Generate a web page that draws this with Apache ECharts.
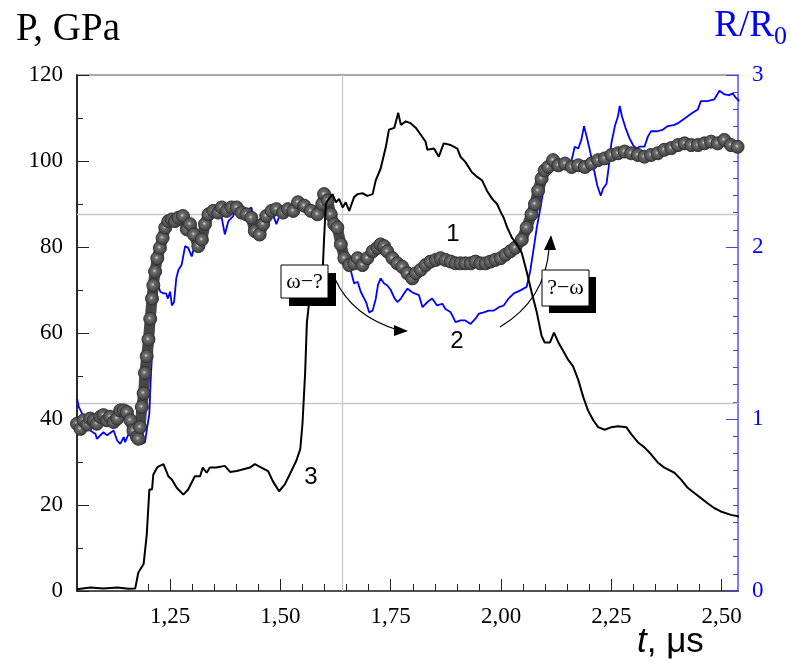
<!DOCTYPE html>
<html>
<head>
<meta charset="utf-8">
<script src="https://cdn.jsdelivr.net/npm/echarts@6/dist/echarts.min.js"></script>
<style>
  html, body { margin: 0; padding: 0; background: #fff; }
  #chart { width: 791px; height: 668px; }
</style>
</head>
<body>
<div id="chart"></div>
<script>
  // time axis, us
  var timeRange = [1.039, 2.537];
  var timeTicks = [1.25, 1.50, 1.75, 2.00, 2.25, 2.50];
  var timeMinorTicks = [1.20, 1.30, 1.35, 1.40, 1.45, 1.55, 1.60, 1.65, 1.70, 1.80, 1.85, 1.90, 1.95,
    2.05, 2.10, 2.15, 2.20, 2.30, 2.35, 2.40, 2.45];
  // reference lines
  var refTime = 1.641;
  var refLevelsR = [2.185, 1.095];

  // curve 1 - circles, P (GPa)
  var curve1 = [[1.039,38.9],[1.047,37.7],[1.054,39.7],[1.062,38.7],[1.069,40.1],[1.077,39.7],[1.084,38.9],
    [1.092,40.5],[1.099,40.9],[1.107,39.7],[1.114,40.5],[1.122,39.3],[1.130,40.1],[1.137,42.0],[1.145,42.0],
    [1.152,41.6],[1.160,39.7],[1.167,37.3],[1.175,35.8],[1.178,35.4],[1.182,38.1],[1.186,42.8],[1.190,46.0],
    [1.193,50.7],[1.197,54.6],[1.201,58.5],[1.205,63.3],[1.209,68.0],[1.212,71.1],[1.216,74.3],[1.221,77.4],
    [1.227,79.8],[1.233,82.1],[1.239,84.5],[1.246,86.0],[1.254,86.4],[1.261,86.0],[1.269,86.8],[1.279,87.2],
    [1.288,84.1],[1.295,85.3],[1.304,82.9],[1.314,80.2],[1.322,81.7],[1.329,85.3],[1.337,87.6],[1.348,88.4],
    [1.359,88.0],[1.367,89.2],[1.378,88.4],[1.389,89.2],[1.401,89.2],[1.412,88.0],[1.423,87.6],[1.434,86.8],
    [1.442,83.7],[1.453,82.9],[1.461,85.3],[1.468,87.2],[1.480,88.4],[1.491,88.8],[1.506,88.0],[1.517,88.8],
    [1.529,88.4],[1.540,90.4],[1.554,89.6],[1.569,88.4],[1.584,87.6],[1.595,90.0],[1.599,92.3],[1.607,90.8],
    [1.614,87.6],[1.622,85.3],[1.629,84.5],[1.637,80.6],[1.645,77.4],[1.656,75.8],[1.667,76.2],[1.675,77.4],
    [1.686,75.8],[1.697,77.4],[1.709,79.0],[1.720,79.8],[1.727,80.6],[1.735,80.2],[1.742,79.0],[1.754,77.4],
    [1.765,76.2],[1.776,75.4],[1.788,73.9],[1.799,72.7],[1.807,73.9],[1.818,74.7],[1.829,75.8],[1.840,76.6],
    [1.852,77.0],[1.863,77.4],[1.874,77.0],[1.886,76.6],[1.897,76.2],[1.908,76.2],[1.919,76.2],[1.931,76.2],
    [1.942,76.6],[1.953,76.2],[1.965,76.2],[1.976,76.6],[1.987,77.0],[1.999,77.4],[2.010,78.2],[2.021,79.0],
    [2.032,79.8],[2.047,81.7],[2.058,84.5],[2.069,87.6],[2.077,90.0],[2.084,93.1],[2.092,95.9],[2.099,97.8],
    [2.107,98.6],[2.118,100.2],[2.130,99.0],[2.145,99.4],[2.160,98.6],[2.175,99.0],[2.190,98.6],[2.205,99.4],
    [2.220,100.2],[2.235,100.6],[2.250,101.4],[2.265,101.8],[2.280,102.2],[2.295,101.8],[2.310,101.4],
    [2.325,101.0],[2.340,101.4],[2.355,101.8],[2.370,102.6],[2.386,103.0],[2.401,103.7],[2.416,104.1],
    [2.431,103.7],[2.446,103.7],[2.461,104.1],[2.476,104.5],[2.491,104.1],[2.506,104.9],[2.521,103.7],[2.536,103.3]];

  // curve 2 - blue, R/R0
  var curve2 = [[1.039,1.120],[1.043,1.070],[1.047,1.050],[1.058,0.993],[1.069,0.933],[1.081,0.913],[1.084,0.885],
    [1.099,0.923],[1.107,0.905],[1.122,0.933],[1.130,0.875],[1.137,0.855],[1.145,0.895],[1.148,0.865],
    [1.156,0.913],[1.167,0.885],[1.178,0.875],[1.186,0.855],[1.193,0.865],[1.197,0.933],[1.203,1.033],
    [1.206,1.228],[1.211,1.463],[1.216,1.660],[1.221,1.788],[1.228,1.740],[1.235,1.730],[1.241,1.730],
    [1.245,1.700],[1.250,1.740],[1.254,1.660],[1.259,1.680],[1.264,1.818],[1.269,1.868],[1.276,1.895],
    [1.284,2.005],[1.291,1.995],[1.299,1.945],[1.306,2.015],[1.314,2.035],[1.322,2.093],[1.333,2.170],
    [1.344,2.190],[1.355,2.180],[1.367,2.170],[1.374,2.073],[1.382,2.150],[1.393,2.180],[1.404,2.260],
    [1.412,2.240],[1.423,2.210],[1.434,2.230],[1.440,2.170],[1.446,2.140],[1.457,2.170],[1.468,2.190],
    [1.480,2.210],[1.491,2.133],[1.499,2.190],[1.510,2.220],[1.521,2.230],[1.536,2.230],[1.555,2.210],
    [1.575,2.240],[1.590,2.220],[1.599,2.230],[1.614,2.210],[1.622,2.150],[1.637,2.015],[1.652,1.915],
    [1.660,1.858],[1.667,1.788],[1.675,1.798],[1.682,1.740],[1.694,1.680],[1.701,1.620],[1.709,1.630],
    [1.716,1.698],[1.721,1.778],[1.727,1.818],[1.735,1.788],[1.742,1.778],[1.750,1.750],[1.759,1.700],
    [1.765,1.680],[1.773,1.700],[1.780,1.730],[1.788,1.758],[1.797,1.740],[1.804,1.730],[1.814,1.720],
    [1.822,1.650],[1.833,1.680],[1.844,1.700],[1.855,1.660],[1.867,1.670],[1.874,1.640],[1.886,1.620],
    [1.897,1.563],[1.908,1.573],[1.919,1.573],[1.931,1.553],[1.942,1.583],[1.950,1.613],[1.961,1.620],
    [1.972,1.630],[1.983,1.630],[1.995,1.650],[2.006,1.660],[2.017,1.700],[2.029,1.730],[2.044,1.748],
    [2.058,1.768],[2.066,1.858],[2.073,1.975],[2.081,2.113],[2.088,2.210],[2.096,2.328],[2.103,2.408],
    [2.114,2.445],[2.130,2.455],[2.145,2.465],[2.160,2.505],[2.167,2.583],[2.175,2.573],[2.182,2.623],
    [2.188,2.703],[2.194,2.643],[2.201,2.565],[2.211,2.445],[2.218,2.358],[2.226,2.298],[2.231,2.338],
    [2.239,2.368],[2.244,2.465],[2.250,2.603],[2.258,2.703],[2.265,2.760],[2.269,2.820],[2.274,2.760],
    [2.282,2.693],[2.291,2.633],[2.299,2.593],[2.306,2.573],[2.314,2.583],[2.325,2.583],[2.333,2.643],
    [2.340,2.673],[2.355,2.673],[2.367,2.683],[2.378,2.703],[2.393,2.710],[2.401,2.720],[2.412,2.740],
    [2.423,2.760],[2.434,2.780],[2.446,2.800],[2.453,2.848],[2.468,2.848],[2.483,2.858],[2.495,2.908],
    [2.506,2.888],[2.517,2.883],[2.525,2.893],[2.532,2.868],[2.540,2.848]];

  // curve 3 - black, P (GPa)
  var curve3 = [[1.039,0.4],[1.069,0.8],[1.099,0.6],[1.130,0.8],[1.156,0.5],[1.171,0.6],[1.178,4.3],[1.190,6.3],
    [1.197,13.0],[1.203,23.6],[1.209,23.6],[1.212,27.1],[1.221,28.8],[1.235,29.5],[1.246,26.7],[1.254,25.9],
    [1.265,24.0],[1.280,22.4],[1.291,23.6],[1.306,26.7],[1.318,26.7],[1.324,28.7],[1.333,27.5],[1.340,28.7],
    [1.355,28.7],[1.374,29.1],[1.386,27.7],[1.401,27.9],[1.416,28.3],[1.431,28.7],[1.442,29.5],[1.457,28.7],
    [1.472,27.9],[1.483,25.5],[1.497,23.2],[1.510,24.8],[1.521,27.1],[1.536,30.3],[1.545,33.0],[1.550,38.9],
    [1.556,50.7],[1.560,62.5],[1.566,68.0],[1.573,71.1],[1.584,72.7],[1.596,75.0],[1.599,82.1],[1.603,90.0],
    [1.607,90.8],[1.618,92.3],[1.626,90.4],[1.633,91.2],[1.641,89.2],[1.648,90.4],[1.656,88.4],[1.660,89.6],
    [1.667,91.6],[1.675,92.3],[1.686,92.5],[1.697,91.9],[1.709,92.3],[1.716,95.5],[1.727,98.2],[1.739,103.3],
    [1.746,107.3],[1.758,107.7],[1.767,111.2],[1.773,108.4],[1.784,109.2],[1.795,108.8],[1.807,107.7],
    [1.818,106.1],[1.829,104.5],[1.833,102.6],[1.848,102.9],[1.859,101.0],[1.870,104.1],[1.886,103.7],
    [1.901,102.9],[1.908,101.0],[1.919,99.8],[1.934,97.4],[1.946,96.3],[1.957,95.5],[1.968,93.1],[1.980,91.2],
    [1.991,90.0],[1.998,88.4],[2.006,86.8],[2.014,84.5],[2.025,82.1],[2.036,80.6],[2.047,78.6],[2.058,74.3],
    [2.069,69.6],[2.081,64.8],[2.092,59.3],[2.099,57.8],[2.111,57.8],[2.120,60.1],[2.130,57.8],[2.141,55.8],
    [2.152,53.8],[2.163,52.3],[2.175,49.1],[2.186,45.2],[2.197,42.0],[2.209,39.7],[2.220,38.1],[2.235,37.5],
    [2.250,38.1],[2.265,38.3],[2.284,38.1],[2.295,36.5],[2.310,34.6],[2.325,33.4],[2.340,31.8],[2.355,29.9],
    [2.370,28.7],[2.393,27.5],[2.408,25.9],[2.423,24.0],[2.438,22.8],[2.453,21.6],[2.468,20.4],[2.483,19.3],
    [2.498,18.5],[2.521,17.7],[2.540,17.3]];

  var serif = '"Liberation Serif", "DejaVu Serif", serif';
  var sans = '"Liberation Sans", Arial, sans-serif';

  var chart = echarts.init(document.getElementById('chart'), null, { renderer: 'canvas' });

  var option = {
    animation: false,
    backgroundColor: '#fff',
    grid: { left: 77, right: 53, top: 75, bottom: 77, show: true, borderColor: '#8c8c8c', borderWidth: 1.5, backgroundColor: 'transparent' },
    xAxis: [{
      type: 'value',
      min: timeRange[0],
      max: timeRange[1],
      position: 'bottom',
      axisLine: { lineStyle: { color: '#333', width: 1.5 } },
      axisTick: { inside: true, length: 12, customValues: timeTicks, lineStyle: { color: '#222', width: 1 } },
      axisLabel: {
        customValues: timeTicks,
        margin: 14,
        fontFamily: serif, fontSize: 23, color: '#000',
        formatter: function (v) { return v.toFixed(2).replace('.', ','); }
      },
      splitLine: { show: false }
    }, {
      // minor ticks only
      type: 'value',
      min: timeRange[0],
      max: timeRange[1],
      position: 'bottom',
      axisLine: { show: false },
      axisTick: { inside: true, length: 7, customValues: timeMinorTicks, lineStyle: { color: '#222', width: 1 } },
      axisLabel: { show: false },
      splitLine: { show: false }
    }],
    yAxis: [{
      type: 'value',
      min: 0, max: 120, interval: 20,
      position: 'left',
      axisLine: { show: true, lineStyle: { color: '#000', width: 1.5 } },
      axisTick: { show: true, inside: true, length: 12, lineStyle: { color: '#222' } },
      minorTick: { show: true, splitNumber: 2, length: 6, lineStyle: { color: '#222' } },
      axisLabel: { margin: 14, fontFamily: serif, fontSize: 23, color: '#000' },
      splitLine: { show: false }
    }, {
      type: 'value',
      min: 0, max: 3, interval: 1,
      position: 'right',
      axisLine: { show: true, lineStyle: { color: '#7d7dff', width: 2 } },
      axisTick: { show: true, inside: true, length: 12, lineStyle: { color: '#4040ff' } },
      minorTick: { show: true, splitNumber: 10, length: 5, lineStyle: { color: '#4040ff' } },
      axisLabel: { margin: 14, fontFamily: serif, fontSize: 23, color: '#0000ff' },
      splitLine: { show: false }
    }],
    series: [{
      name: '2',
      type: 'line',
      yAxisIndex: 1,
      data: curve2,
      symbol: 'none',
      z: 2,
      lineStyle: { color: '#0000ff', width: 1.8 },
      markLine: {
        silent: true,
        z: 1,
        symbol: ['none', 'none'],
        label: { show: false },
        lineStyle: { color: '#c8c8c8', width: 1.3, type: 'solid' },
        data: [{ xAxis: refTime }, { yAxis: refLevelsR[0] }, { yAxis: refLevelsR[1] }]
      }
    }, {
      name: '1',
      type: 'line',
      yAxisIndex: 0,
      data: curve1,
      symbol: 'circle',
      symbolSize: 13,
      z: 3,
      lineStyle: { color: '#474747', width: 11 },
      itemStyle: {
        color: {
          type: 'radial', x: 0.45, y: 0.45, r: 0.55,
          colorStops: [{ offset: 0, color: '#d8d8d8' }, { offset: 0.25, color: '#6e6e6e' }, { offset: 1, color: '#3a3a3a' }]
        },
        borderColor: '#333',
        borderWidth: 1
      }
    }, {
      name: '3',
      type: 'line',
      yAxisIndex: 0,
      data: curve3,
      symbol: 'none',
      z: 4,
      lineStyle: { color: '#000', width: 2 }
    }],
    graphic: [
      // axis names
      { type: 'text', left: 16, top: 10, style: { text: 'P, GPa', font: '39px ' + serif, fill: '#000' } },
      {
        type: 'text', right: 4, top: 8,
        style: {
          text: '{a|R/R}{b|0}',
          rich: {
            a: { font: '37px ' + serif, fill: '#0000ff' },
            b: { font: '26px ' + serif, fill: '#0000ff', padding: [22, 0, 0, 0] }
          }
        }
      },
      {
        type: 'text', left: 637, top: 625,
        style: {
          text: '{i|t}{n|, \u03bcs}',
          rich: {
            i: { font: 'italic 35px ' + sans, fill: '#000' },
            n: { font: '35px ' + sans, fill: '#000' }
          }
        }
      },
      // curve numbers
      { type: 'text', x: 453, y: 234, style: { text: '1', font: '24px ' + sans, fill: '#000', align: 'center', verticalAlign: 'middle' } },
      { type: 'text', x: 457, y: 341, style: { text: '2', font: '24px ' + sans, fill: '#000', align: 'center', verticalAlign: 'middle' } },
      { type: 'text', x: 311, y: 477, style: { text: '3', font: '24px ' + sans, fill: '#000', align: 'center', verticalAlign: 'middle' } },
      // boxes with shadow
      { type: 'rect', z: 10, shape: { x: 289, y: 273, width: 47, height: 33 }, style: { fill: '#000' } },
      { type: 'rect', z: 11, shape: { x: 281, y: 265, width: 47, height: 33 }, style: { fill: '#fff', stroke: '#000', lineWidth: 1 } },
      { type: 'text', z: 12, x: 304.5, y: 282, style: { text: '\u03c9\u2212?', font: '22px ' + serif, fill: '#000', align: 'center', verticalAlign: 'middle' } },
      { type: 'rect', z: 10, shape: { x: 549, y: 277, width: 47, height: 36 }, style: { fill: '#000' } },
      { type: 'rect', z: 11, shape: { x: 542, y: 270, width: 47, height: 36 }, style: { fill: '#fff', stroke: '#000', lineWidth: 1 } },
      { type: 'text', z: 12, x: 565.5, y: 288, style: { text: '?\u2212\u03c9', font: '22px ' + serif, fill: '#000', align: 'center', verticalAlign: 'middle' } },
      // arrows
      { type: 'bezierCurve', z: 9, shape: { x1: 335, y1: 279, cpx1: 352, cpy1: 316, x2: 398, y2: 330 }, style: { stroke: '#000', lineWidth: 1.2, fill: null } },
      { type: 'polygon', z: 9, shape: { points: [[408, 331], [394, 325], [394, 336]] }, style: { fill: '#000' } },
      { type: 'bezierCurve', z: 9, shape: { x1: 500, y1: 327, cpx1: 545, cpy1: 300, x2: 549, y2: 249 }, style: { stroke: '#000', lineWidth: 1.2, fill: null } },
      { type: 'polygon', z: 9, shape: { points: [[551, 235], [544, 250], [556, 250]] }, style: { fill: '#000' } }
    ]
  };

  chart.setOption(option);
</script>
</body>
</html>
